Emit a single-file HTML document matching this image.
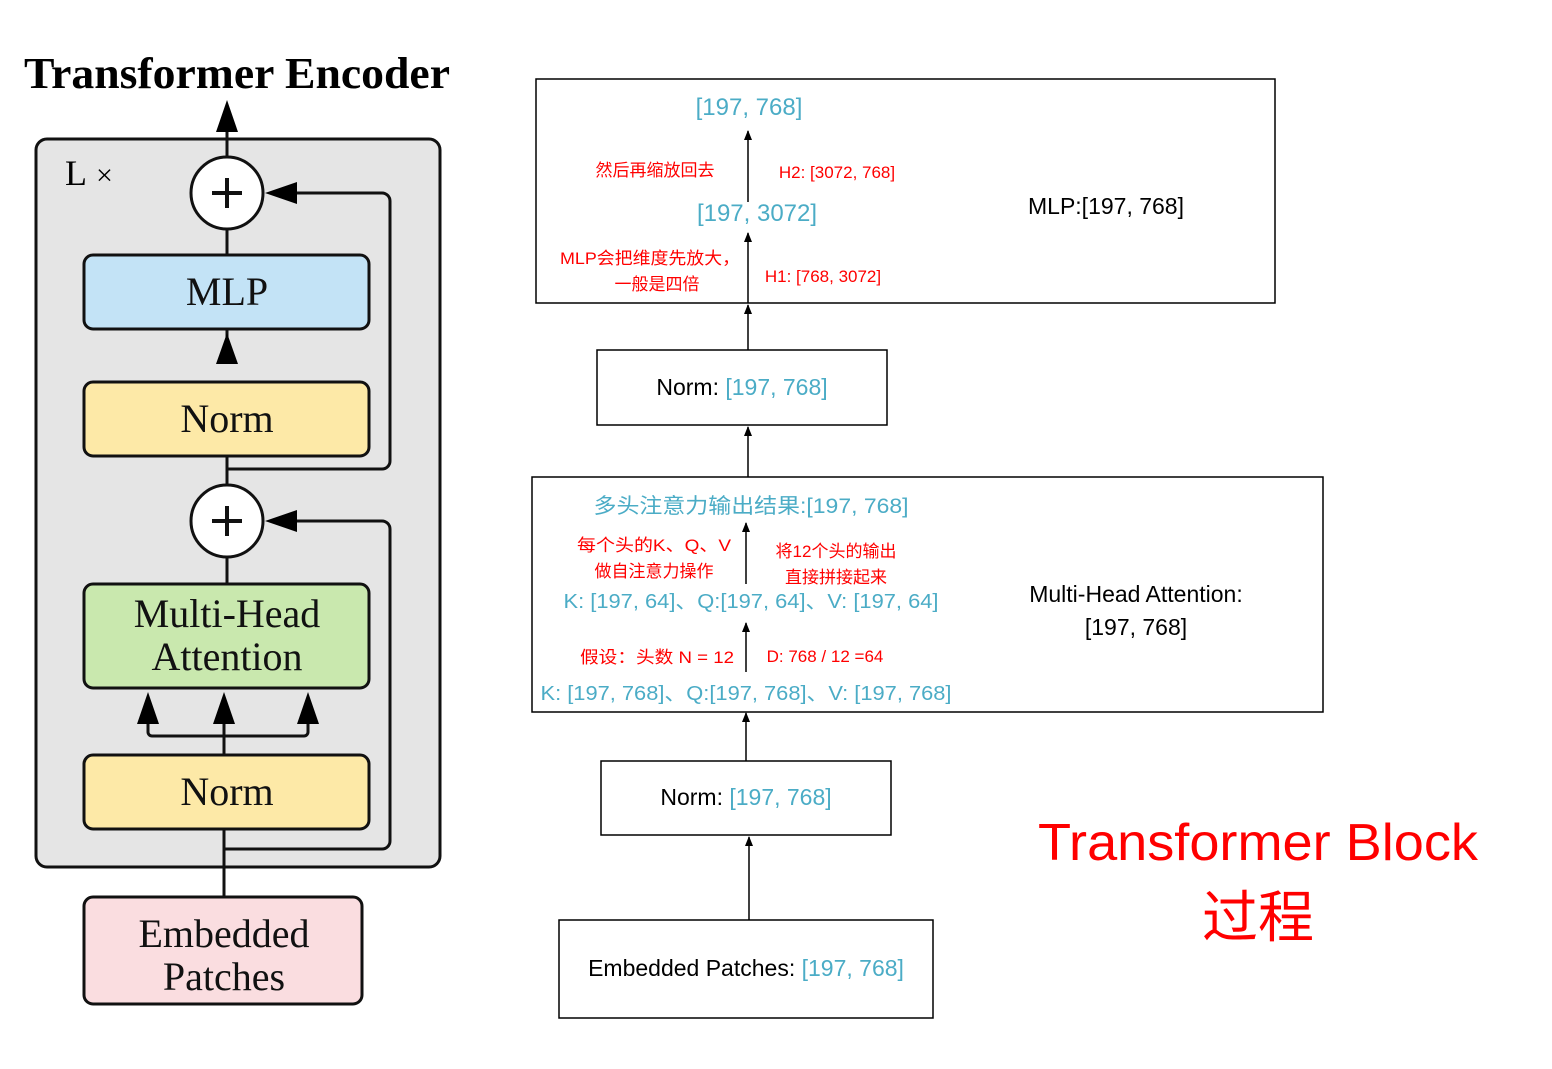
<!DOCTYPE html>
<html><head><meta charset="utf-8"><style>
html,body{margin:0;padding:0;background:#fff;}
svg{display:block;}
.s{font-family:"Liberation Serif","Noto Serif CJK SC",serif;}
.c{font-family:"Liberation Sans","Noto Sans CJK SC",sans-serif;}
</style></head><body>
<svg width="1552" height="1069" viewBox="0 0 1552 1069" xmlns="http://www.w3.org/2000/svg">
<defs>
<marker id="a" markerWidth="10" markerHeight="10" refX="9" refY="5" orient="auto" markerUnits="userSpaceOnUse"><path d="M0,1 L10,5 L0,9Z" fill="#000"/></marker>
</defs>
<!-- LEFT -->
<text class="s" x="237" y="88" font-size="44" font-weight="bold" text-anchor="middle" textLength="426" lengthAdjust="spacingAndGlyphs">Transformer Encoder</text>
<rect x="36" y="139" width="404" height="728" rx="11" fill="#e5e5e5" stroke="#111" stroke-width="3"/>
<text class="s" x="65" y="185" font-size="36">L</text><text class="s" x="96" y="185" font-size="30">×</text>
<g stroke="#111" stroke-width="3" fill="none">
<line x1="227" y1="157" x2="227" y2="125"/>
<line x1="227" y1="229" x2="227" y2="255"/>
<line x1="227" y1="329" x2="227" y2="355"/>
<line x1="227" y1="456" x2="227" y2="485"/>
<path d="M227,469 H382 a8,8 0 0 0 8,-8 V201 a8,8 0 0 0 -8,-8 H295"/>
<line x1="227" y1="557" x2="227" y2="584"/>
<path d="M224,849 H382 a8,8 0 0 0 8,-8 V529 a8,8 0 0 0 -8,-8 H295"/>
<line x1="224" y1="829" x2="224" y2="897"/>
<line x1="224" y1="755" x2="224" y2="720"/>
<path d="M148,720 V732 a4,4 0 0 0 4,4 H304 a4,4 0 0 0 4,-4 V720"/>
</g>
<g fill="#000">
<path d="M227,100 L216,132 L238,132Z"/>
<path d="M227,333 L216,364 L238,364Z"/>
<path d="M265,193 L297,182 L297,204Z"/>
<path d="M265,521 L297,510 L297,532Z"/>
<path d="M148,692 L137,724 L159,724Z"/>
<path d="M224,692 L213,724 L235,724Z"/>
<path d="M308,692 L297,724 L319,724Z"/>
</g>
<circle cx="227" cy="193" r="36" fill="#fff" stroke="#111" stroke-width="3"/>
<path d="M212,193 H242 M227,178 V208" stroke="#111" stroke-width="4"/>
<circle cx="227" cy="521" r="36" fill="#fff" stroke="#111" stroke-width="3"/>
<path d="M212,521 H242 M227,506 V536" stroke="#111" stroke-width="4"/>
<g stroke="#111" stroke-width="3">
<rect x="84" y="255" width="285" height="74" rx="9" fill="#c3e3f6"/>
<rect x="84" y="382" width="285" height="74" rx="9" fill="#fde9a7"/>
<rect x="84" y="584" width="285" height="104" rx="9" fill="#c9e8ae"/>
<rect x="84" y="755" width="285" height="74" rx="9" fill="#fde9a7"/>
<rect x="84" y="897" width="278" height="107" rx="9" fill="#fadde0"/>
</g>
<g class="s" font-size="40" text-anchor="middle" fill="#111">
<text x="227" y="305">MLP</text>
<text x="227" y="432">Norm</text>
<text x="227" y="627">Multi-Head</text>
<text x="227" y="670">Attention</text>
<text x="227" y="805">Norm</text>
<text x="224" y="947">Embedded</text>
<text x="224" y="990">Patches</text>
</g>
<!-- RIGHT -->
<g stroke="#000" stroke-width="1.5" fill="none">
<rect x="536" y="79" width="739" height="224"/>
<rect x="597" y="350" width="290" height="75"/>
<rect x="532" y="477" width="791" height="235"/>
<rect x="601" y="761" width="290" height="74"/>
<rect x="559" y="920" width="374" height="98"/>
</g>
<g stroke="#000" stroke-width="1.5" marker-end="url(#a)">
<line x1="749" y1="920" x2="749" y2="837"/>
<line x1="746" y1="761" x2="746" y2="713"/>
<line x1="748" y1="477" x2="748" y2="427"/>
<line x1="748" y1="350" x2="748" y2="305"/>
<line x1="748" y1="303" x2="748" y2="233"/>
<line x1="748" y1="202" x2="748" y2="131"/>
<line x1="746" y1="672" x2="746" y2="623"/>
<line x1="746" y1="584" x2="746" y2="523"/>
</g>
<g class="c" fill="#4bacc6">
<text x="749" y="115" font-size="24" text-anchor="middle">[197, 768]</text>
<text x="757" y="221" font-size="24" text-anchor="middle">[197, 3072]</text>
<text x="751" y="513" font-size="21" text-anchor="middle" textLength="315" lengthAdjust="spacingAndGlyphs">多头注意力输出结果:[197, 768]</text>
<text x="751" y="608" font-size="20" text-anchor="middle" textLength="375" lengthAdjust="spacingAndGlyphs">K: [197, 64]、Q:[197, 64]、V: [197, 64]</text>
<text x="746" y="700" font-size="20" text-anchor="middle" textLength="411" lengthAdjust="spacingAndGlyphs">K: [197, 768]、Q:[197, 768]、V: [197, 768]</text>
</g>
<g class="c" fill="#ff0000" font-size="17">
<text x="655" y="176" text-anchor="middle">然后再缩放回去</text>
<text x="837" y="178" text-anchor="middle">H2: [3072, 768]</text>
<text x="650" y="264" text-anchor="middle" textLength="180" lengthAdjust="spacingAndGlyphs">MLP会把维度先放大，</text>
<text x="657" y="290" text-anchor="middle">一般是四倍</text>
<text x="823" y="282" text-anchor="middle">H1: [768, 3072]</text>
<text x="654" y="551" text-anchor="middle" textLength="154" lengthAdjust="spacingAndGlyphs">每个头的K、Q、V</text>
<text x="654" y="577" text-anchor="middle">做自注意力操作</text>
<text x="836" y="557" text-anchor="middle">将12个头的输出</text>
<text x="836" y="583" text-anchor="middle">直接拼接起来</text>
<text x="657" y="663" text-anchor="middle" textLength="154" lengthAdjust="spacingAndGlyphs">假设：头数 N = 12</text>
<text x="825" y="662" text-anchor="middle">D: 768 / 12 =64</text>
</g>
<g class="c" fill="#000" font-size="23">
<text x="1106" y="214" text-anchor="middle">MLP:[197, 768]</text>
<text x="1136" y="602" text-anchor="middle">Multi-Head Attention:</text>
<text x="1136" y="635" text-anchor="middle">[197, 768]</text>
<text x="742" y="395" text-anchor="middle">Norm: <tspan fill="#4bacc6">[197, 768]</tspan></text>
<text x="746" y="805" text-anchor="middle">Norm: <tspan fill="#4bacc6">[197, 768]</tspan></text>
<text x="746" y="976" text-anchor="middle">Embedded Patches: <tspan fill="#4bacc6">[197, 768]</tspan></text>
</g>
<g class="c" fill="#ff0000" text-anchor="middle">
<text x="1258" y="860" font-size="52" textLength="440" lengthAdjust="spacingAndGlyphs">Transformer Block</text>
<text x="1258" y="937" font-size="56">过程</text>
</g>
</svg>
</body></html>
